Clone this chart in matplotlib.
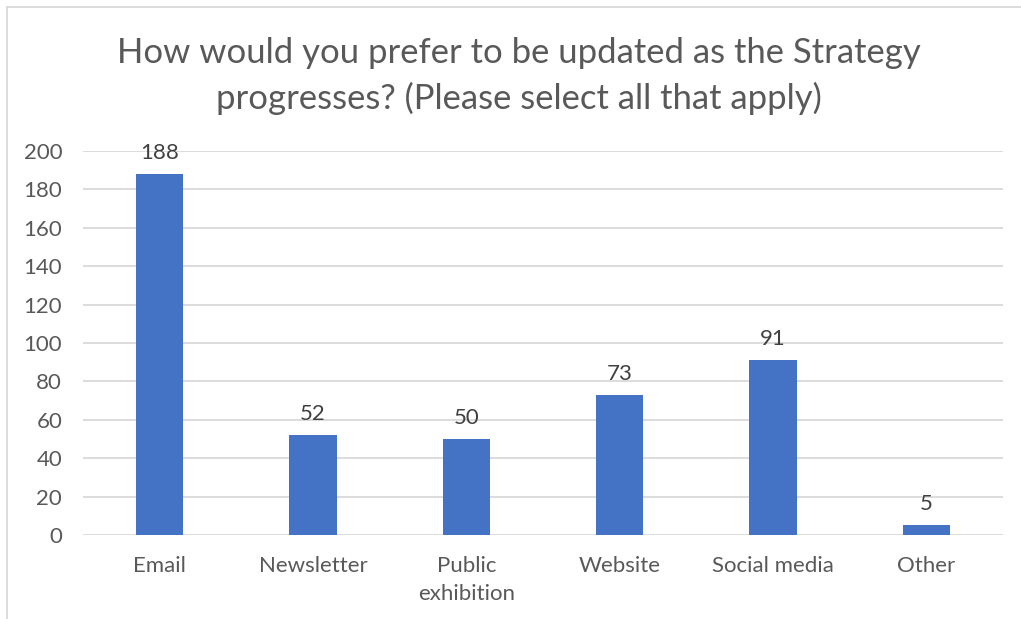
import matplotlib
matplotlib.use("Agg")
import matplotlib.pyplot as plt
from matplotlib.lines import Line2D

categories = ["Email", "Newsletter", "Public\nexhibition", "Website", "Social media", "Other"]
values = [188, 52, 50, 73, 91, 5]
yticks = [0, 20, 40, 60, 80, 100, 120, 140, 160, 180, 200]
title = "How would you prefer to be updated as the Strategy\nprogresses? (Please select all that apply)"

plt.rcParams['font.family'] = ['Lato', 'DejaVu Sans']
txt = "#595959"

fig = plt.figure(figsize=(10.21, 6.19), dpi=100)
ax = fig.add_axes([83/1021, 1-535/619, 920/1021, 384/619])

x = list(range(len(categories)))
bars = ax.bar(x, values, width=0.31, color="#4472C4", zorder=3)
for xi, v in zip(x, values):
    ax.annotate(str(v), (xi, v), xytext=(0, 8), textcoords="offset points",
                ha="center", va="bottom", fontsize=16, color="#404040")

ax.set_xlim(-0.5, len(categories) - 0.5)
ax.set_ylim(0, 200)
ax.set_yticks(yticks)
ax.set_yticklabels([str(t) for t in yticks], fontsize=16, color=txt)
ax.set_xticks(x)
ax.set_xticklabels(categories, fontsize=16, color=txt, linespacing=1.5)
ax.tick_params(axis='both', length=0)
ax.tick_params(axis='y', pad=15)
ax.tick_params(axis='x', pad=15)
ax.grid(axis='y', color="#d9d9d9", linewidth=1.3, zorder=0)
for s in ax.spines.values():
    s.set_visible(False)

fig.text(519/1021, 1-37/619, title, ha="center", va="top", fontsize=24.9, color=txt, linespacing=1.46)

# chart border (left and top)
fig.add_artist(Line2D([7/1021, 7/1021], [0, 1-7/619], color="#d9d9d9", lw=1.3, transform=fig.transFigure))
fig.add_artist(Line2D([7/1021, 1], [1-7/619, 1-7/619], color="#d9d9d9", lw=1.3, transform=fig.transFigure))

fig.savefig("out.png", dpi=100)
